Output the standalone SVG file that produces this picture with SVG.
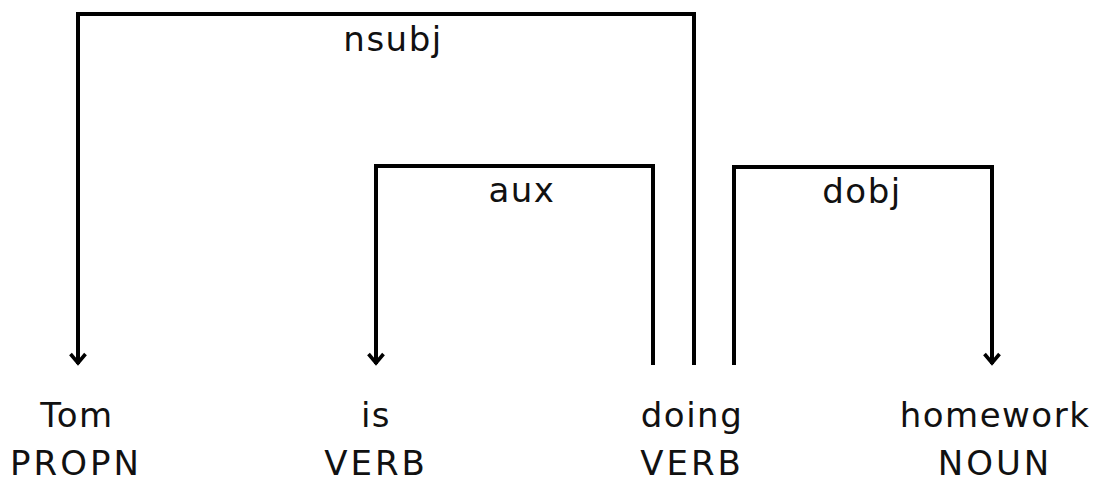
<svg xmlns="http://www.w3.org/2000/svg" width="1097" height="480" viewBox="0 0 1097 480">
<defs>
<marker id="arr" viewBox="0 0 14 18" refX="12" refY="9" markerWidth="14" markerHeight="18" markerUnits="userSpaceOnUse" orient="auto">
<path d="M2,1.5 L11,9 L2,16.5" fill="none" stroke="#000" stroke-width="3.6" stroke-linejoin="miter"/>
</marker>
<style>
.e{fill:none;stroke:#000;stroke-width:4;stroke-linejoin:miter}
.t{font-family:"DejaVu Sans","Liberation Sans",sans-serif;font-size:34px;letter-spacing:1.5px;fill:#111;text-anchor:middle}
.c{letter-spacing:3px}
</style>
</defs>
<rect width="1097" height="480" fill="#fff"/>
<g id="edges">
<path class="e" d="M694,365 V14 H78 V364" marker-end="url(#arr)"/>
<path class="e" d="M653,365 V166 H376 V364" marker-end="url(#arr)"/>
<path class="e" d="M734,365 V167 H992 V364" marker-end="url(#arr)"/>
<text class="t" x="393" y="51">nsubj</text>
<text class="t" x="522" y="202">aux</text>
<text class="t" x="862" y="203">dobj</text>
</g>
<g id="n-tom"><text class="t" x="77" y="427">Tom</text><text class="t c" x="76" y="475">PROPN</text></g>
<g id="n-is"><text class="t" x="376" y="427">is</text><text class="t c" x="376" y="475">VERB</text></g>
<g id="n-doing"><text class="t" x="692" y="427">doing</text><text class="t c" x="692" y="475">VERB</text></g>
<g id="n-homework"><text class="t" x="995" y="427">homework</text><text class="t c" x="995" y="475">NOUN</text></g>
</svg>
